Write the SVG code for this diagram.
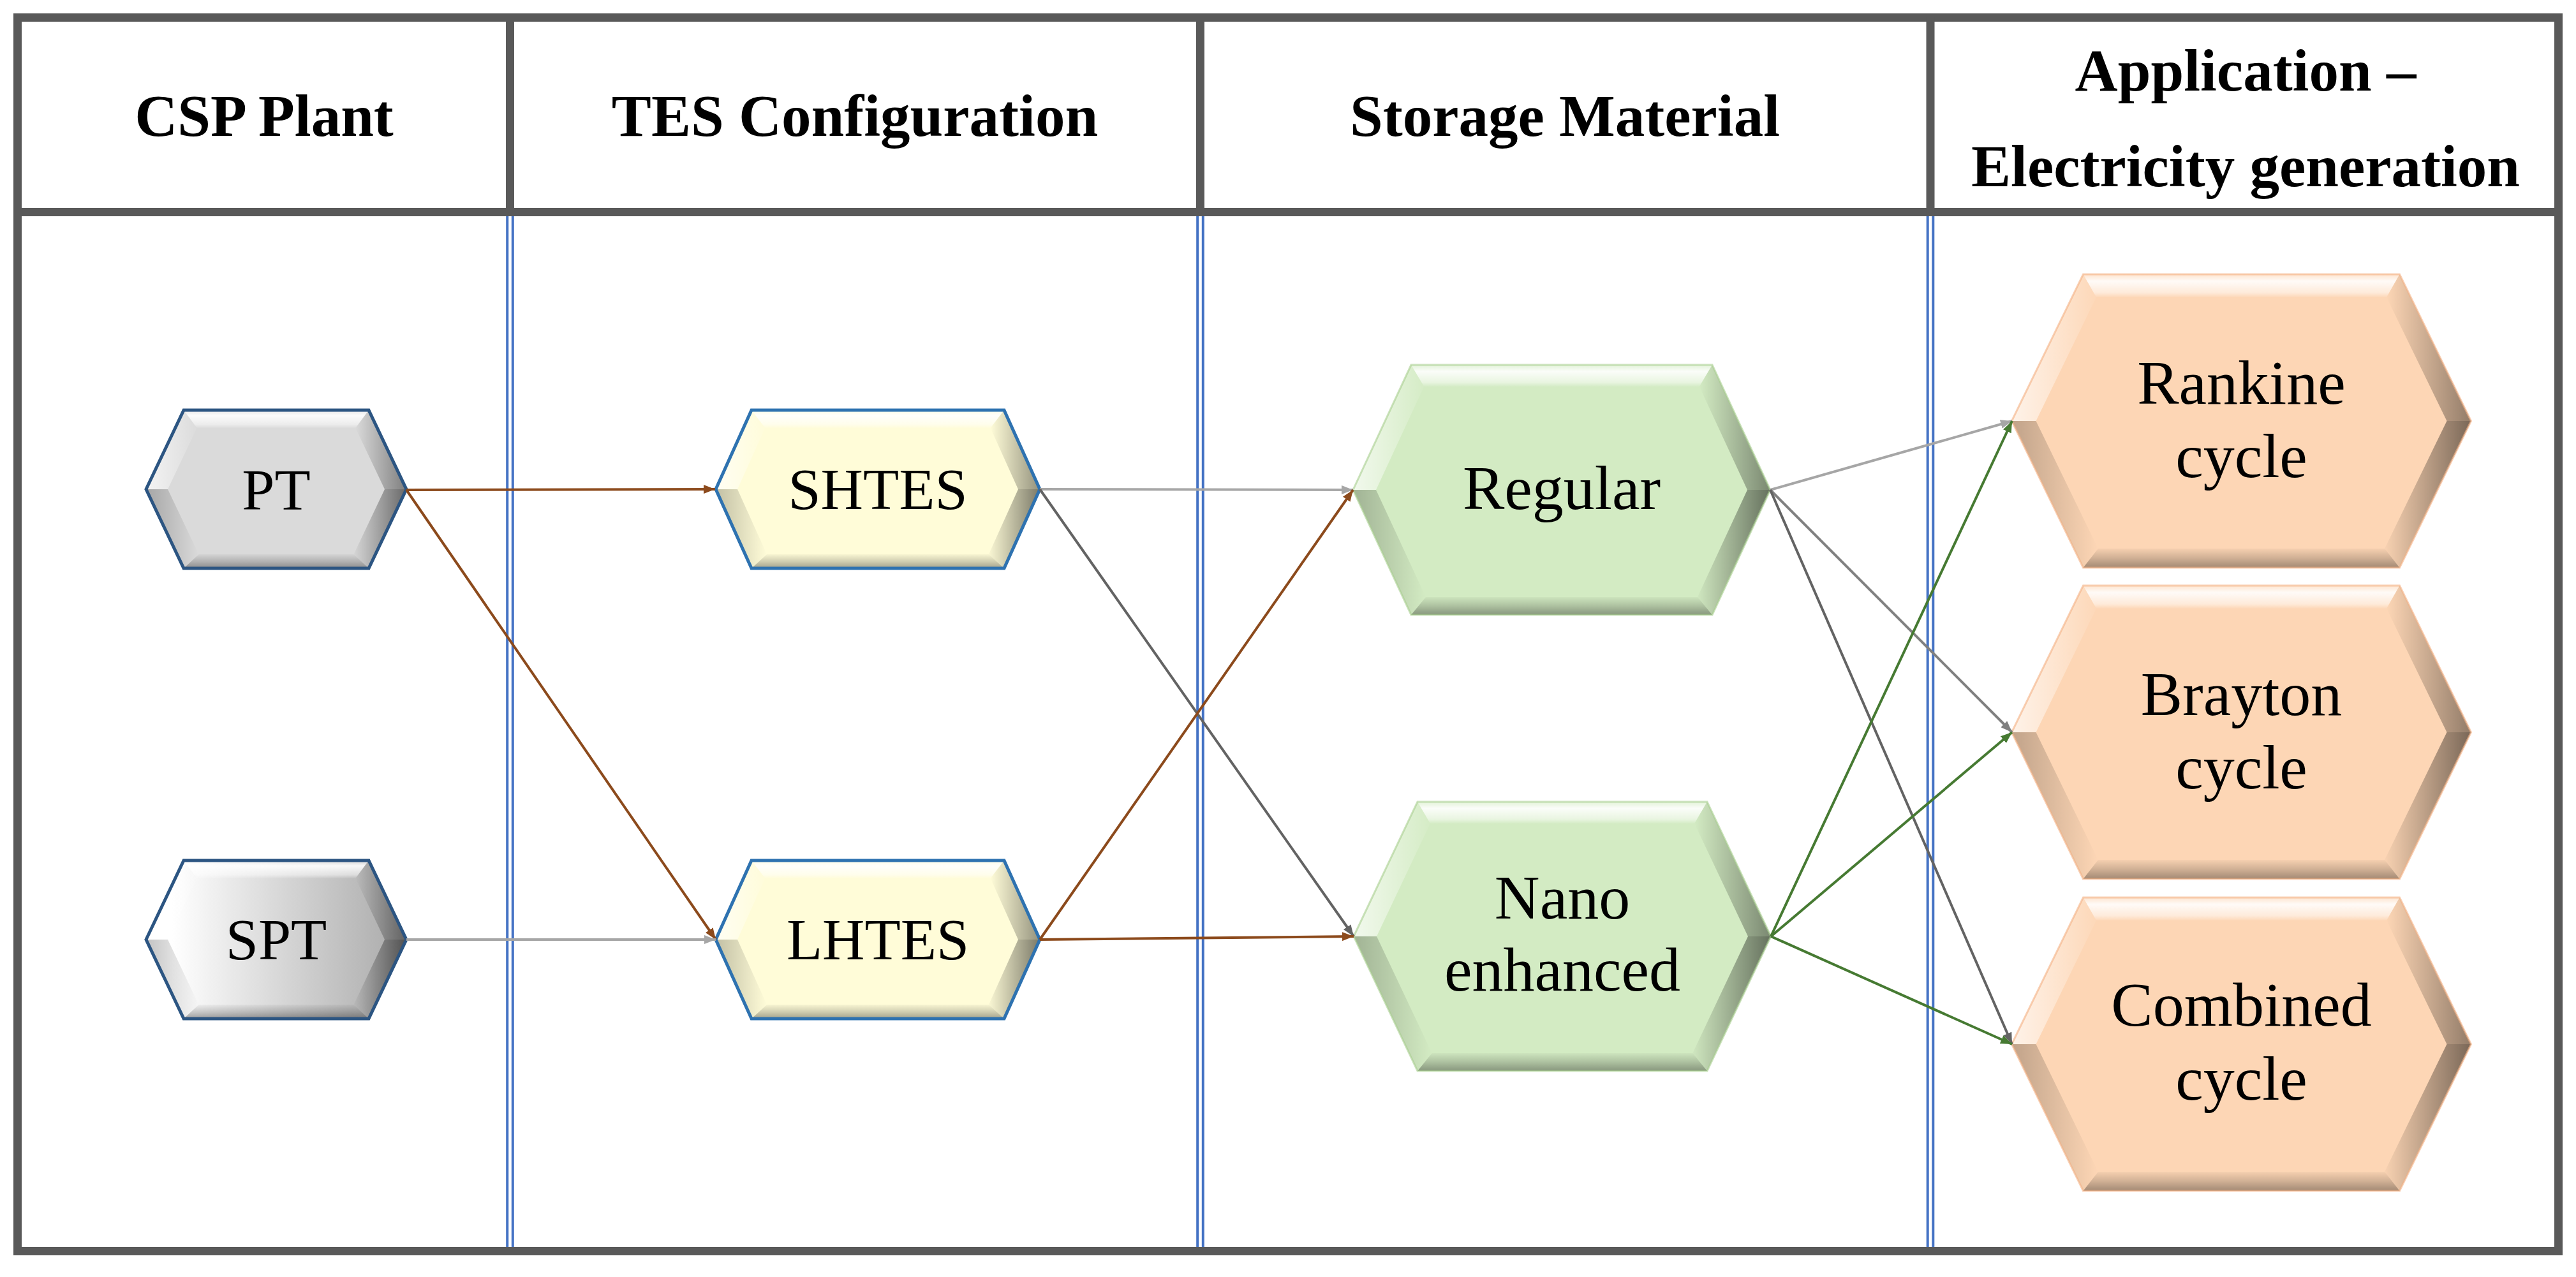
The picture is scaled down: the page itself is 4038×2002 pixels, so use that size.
<svg xmlns="http://www.w3.org/2000/svg" xmlns:xlink="http://www.w3.org/1999/xlink" width="4038" height="2002" viewBox="0 0 4038 2002">
<style>
.hdr{font-family:"Liberation Serif","Times New Roman",serif;font-weight:bold;font-size:93px;fill:#000;text-anchor:middle}
.ts{font-family:"Liberation Serif","Times New Roman",serif;font-size:92px;fill:#000;text-anchor:middle}
.tl{font-family:"Liberation Serif","Times New Roman",serif;font-size:98px;fill:#000;text-anchor:middle}
.frame{fill:none;stroke:#595959;stroke-width:13}
.dbl{stroke:#4472c4;stroke-width:4}
.con{fill:none;stroke-width:4}
.brown{stroke:#8c4a1c}
.lgray{stroke:#a6a6a6}
.mgray{stroke:#808080}
.dgray{stroke:#636363}
.green{stroke:#467a32}
.blueline{fill:none;stroke:#2c5582;stroke-width:5;stroke-linejoin:miter}
.yelline{fill:none;stroke:#2e72b0;stroke-width:5;stroke-linejoin:miter}
</style>
<defs>
<linearGradient id="gTop" x1="0" y1="0" x2="0" y2="1">
<stop offset="0" stop-color="#fff" stop-opacity="0.35"/>
<stop offset="0.3" stop-color="#fff" stop-opacity="0.9"/>
<stop offset="0.8" stop-color="#fff" stop-opacity="0.5"/>
<stop offset="1" stop-color="#fff" stop-opacity="0.05"/>
</linearGradient>
<linearGradient id="gBot" x1="0" y1="0" x2="0" y2="1">
<stop offset="0" stop-color="#000" stop-opacity="0.03"/>
<stop offset="0.5" stop-color="#000" stop-opacity="0.18"/>
<stop offset="1" stop-color="#000" stop-opacity="0.36"/>
</linearGradient>
<linearGradient id="gLU" x1="0" y1="0" x2="1" y2="0">
<stop offset="0" stop-color="#fff" stop-opacity="0.7"/>
<stop offset="1" stop-color="#fff" stop-opacity="0.05"/>
</linearGradient>
<linearGradient id="gLD" x1="0" y1="0" x2="1" y2="0">
<stop offset="0" stop-color="#000" stop-opacity="0.24"/>
<stop offset="1" stop-color="#000" stop-opacity="0"/>
</linearGradient>
<linearGradient id="gRU" x1="0" y1="0" x2="1" y2="0">
<stop offset="0" stop-color="#000" stop-opacity="0"/>
<stop offset="1" stop-color="#000" stop-opacity="0.42"/>
</linearGradient>
<linearGradient id="gRD" x1="0" y1="0" x2="1" y2="0">
<stop offset="0" stop-color="#000" stop-opacity="0.02"/>
<stop offset="1" stop-color="#000" stop-opacity="0.52"/>
</linearGradient>
<linearGradient id="gSPT" x1="0" y1="0" x2="1" y2="0">
<stop offset="0.1" stop-color="#ffffff"/>
<stop offset="1" stop-color="#a9a9a9"/>
</linearGradient>

<!-- facets type A (PT/SPT) -->
<g id="facA">
<polygon points="-145,-124 145,-124 124.3,-96 -124.3,-96" fill="url(#gTop)"/>
<polygon points="-121.5,102 121.5,102 145,124 -145,124" fill="url(#gBot)"/>
<polygon points="-204,0 -145,-124 -124.3,-96 -170,0" fill="url(#gLU)"/>
<polygon points="-204,0 -170,0 -121.5,102 -145,124" fill="url(#gLD)"/>
<polygon points="145,-124 204,0 170,0 124.3,-96" fill="url(#gRU)"/>
<polygon points="204,0 145,124 121.5,102 170,0" fill="url(#gRD)"/>
</g>
<!-- facets type B (SHTES/LHTES) -->
<g id="facB">
<polygon points="-198,-124 198,-124 176.6,-96 -176.6,-96" fill="url(#gTop)"/>
<polygon points="-173.9,102 173.9,102 198,124 -198,124" fill="url(#gBot)"/>
<polygon points="-254,0 -198,-124 -176.6,-96 -220,0" fill="url(#gLU)"/>
<polygon points="-254,0 -220,0 -173.9,102 -198,124" fill="url(#gLD)"/>
<polygon points="198,-124 254,0 220,0 176.6,-96" fill="url(#gRU)"/>
<polygon points="254,0 198,124 173.9,102 220,0" fill="url(#gRD)"/>
</g>
<!-- facets type C (Regular) -->
<g id="facC">
<polygon points="-236,-196 236,-196 215.8,-162 -215.8,-162" fill="url(#gTop)"/>
<polygon points="-213,168 213,168 236,196 -236,196" fill="url(#gBot)"/>
<polygon points="-327,0 -236,-196 -215.8,-162 -291,0" fill="url(#gLU)"/>
<polygon points="-327,0 -291,0 -213,168 -236,196" fill="url(#gLD)"/>
<polygon points="236,-196 327,0 291,0 215.8,-162" fill="url(#gRU)"/>
<polygon points="327,0 236,196 213,168 291,0" fill="url(#gRD)"/>
</g>
<!-- facets type D (Nano) -->
<g id="facD">
<polygon points="-227,-211 227,-211 207.1,-177 -207.1,-177" fill="url(#gTop)"/>
<polygon points="-204.3,183 204.3,183 227,211 -227,211" fill="url(#gBot)"/>
<polygon points="-327,0 -227,-211 -207.1,-177 -291,0" fill="url(#gLU)"/>
<polygon points="-327,0 -291,0 -204.3,183 -227,211" fill="url(#gLD)"/>
<polygon points="227,-211 327,0 291,0 207.1,-177" fill="url(#gRU)"/>
<polygon points="327,0 227,211 204.3,183 291,0" fill="url(#gRD)"/>
</g>
<!-- facets type E (cycles) -->
<g id="facE">
<polygon points="-248,-230 248,-230 227.5,-194 -227.5,-194" fill="url(#gTop)"/>
<polygon points="-224.6,200 224.6,200 248,230 -248,230" fill="url(#gBot)"/>
<polygon points="-360,0 -248,-230 -227.5,-194 -322,0" fill="url(#gLU)"/>
<polygon points="-360,0 -322,0 -224.6,200 -248,230" fill="url(#gLD)"/>
<polygon points="248,-230 360,0 322,0 227.5,-194" fill="url(#gRU)"/>
<polygon points="360,0 248,230 224.6,200 322,0" fill="url(#gRD)"/>
</g>

<marker id="mBrown" viewBox="0 0 18 14" refX="18" refY="7" markerWidth="18" markerHeight="14" markerUnits="userSpaceOnUse" orient="auto"><path d="M0,0 L18,7 L0,14 z" fill="#8c4a1c"/></marker>
<marker id="mLGray" viewBox="0 0 18 14" refX="18" refY="7" markerWidth="18" markerHeight="14" markerUnits="userSpaceOnUse" orient="auto"><path d="M0,0 L18,7 L0,14 z" fill="#a6a6a6"/></marker>
<marker id="mMGray" viewBox="0 0 18 14" refX="18" refY="7" markerWidth="18" markerHeight="14" markerUnits="userSpaceOnUse" orient="auto"><path d="M0,0 L18,7 L0,14 z" fill="#808080"/></marker>
<marker id="mDGray" viewBox="0 0 18 14" refX="18" refY="7" markerWidth="18" markerHeight="14" markerUnits="userSpaceOnUse" orient="auto"><path d="M0,0 L18,7 L0,14 z" fill="#636363"/></marker>
<marker id="mGreen" viewBox="0 0 18 14" refX="18" refY="7" markerWidth="18" markerHeight="14" markerUnits="userSpaceOnUse" orient="auto"><path d="M0,0 L18,7 L0,14 z" fill="#467a32"/></marker>
</defs>

<rect x="0" y="0" width="4038" height="2002" fill="#ffffff"/>

<g id="table">
<rect class="frame" x="27.5" y="27.5" width="3983" height="1934"/>
<line class="frame" x1="27" y1="332.5" x2="4011" y2="332.5"/>
<line class="frame" x1="799.5" y1="27" x2="799.5" y2="339"/>
<line class="frame" x1="1881.5" y1="27" x2="1881.5" y2="339"/>
<line class="frame" x1="3026" y1="27" x2="3026" y2="339"/>
<line class="dbl" x1="795.2" y1="339" x2="795.2" y2="1955"/>
<line class="dbl" x1="803.8" y1="339" x2="803.8" y2="1955"/>
<line class="dbl" x1="1877.2" y1="339" x2="1877.2" y2="1955"/>
<line class="dbl" x1="1885.8" y1="339" x2="1885.8" y2="1955"/>
<line class="dbl" x1="3021.7" y1="339" x2="3021.7" y2="1955"/>
<line class="dbl" x1="3030.3" y1="339" x2="3030.3" y2="1955"/>
</g>

<g id="headers">
<text class="hdr" x="414" y="213">CSP Plant</text>
<text class="hdr" x="1340" y="213">TES Configuration</text>
<text class="hdr" x="2453" y="213">Storage Material</text>
<text class="hdr" x="3520" y="142">Application –</text>
<text class="hdr" x="3520" y="292">Electricity generation</text>
</g>

<g id="node-PT" transform="translate(433,767)">
<polygon points="-204,0 -145,-124 145,-124 204,0 145,124 -145,124" fill="#dadada"/>
<use href="#facA"/>
<polygon class="blueline" points="-204,0 -145,-124 145,-124 204,0 145,124 -145,124"/>
<text class="ts" x="0" y="32">PT</text>
</g>

<g id="node-SPT" transform="translate(433,1473)">
<polygon points="-204,0 -145,-124 145,-124 204,0 145,124 -145,124" fill="url(#gSPT)"/>
<use href="#facA"/>
<polygon class="blueline" points="-204,0 -145,-124 145,-124 204,0 145,124 -145,124"/>
<text class="ts" x="0" y="31">SPT</text>
</g>

<g id="node-SHTES" transform="translate(1376,767)">
<polygon points="-254,0 -198,-124 198,-124 254,0 198,124 -198,124" fill="#fffcd8"/>
<use href="#facB"/>
<polygon class="yelline" points="-254,0 -198,-124 198,-124 254,0 198,124 -198,124"/>
<text class="ts" x="0" y="31">SHTES</text>
</g>

<g id="node-LHTES" transform="translate(1376,1473)">
<polygon points="-254,0 -198,-124 198,-124 254,0 198,124 -198,124" fill="#fffcd8"/>
<use href="#facB"/>
<polygon class="yelline" points="-254,0 -198,-124 198,-124 254,0 198,124 -198,124"/>
<text class="ts" x="0" y="31">LHTES</text>
</g>

<g id="node-Regular" transform="translate(2448,768)">
<polygon points="-327,0 -236,-196 236,-196 327,0 236,196 -236,196" fill="#d3ebc3"/>
<use href="#facC"/>
<polygon points="-327,0 -236,-196 236,-196 327,0 236,196 -236,196" fill="none" stroke="#a8cf90" stroke-width="3" stroke-opacity="0.6"/>
<text class="tl" x="0" y="30">Regular</text>
</g>

<g id="node-Nano" transform="translate(2449,1468)">
<polygon points="-327,0 -227,-211 227,-211 327,0 227,211 -227,211" fill="#d3ebc3"/>
<use href="#facD"/>
<polygon points="-327,0 -227,-211 227,-211 327,0 227,211 -227,211" fill="none" stroke="#a8cf90" stroke-width="3" stroke-opacity="0.6"/>
<text class="tl" x="0" y="-28">Nano</text>
<text class="tl" x="0" y="85">enhanced</text>
</g>

<g id="node-Rankine" transform="translate(3513.5,660)">
<polygon points="-360,0 -248,-230 248,-230 360,0 248,230 -248,230" fill="#fdd6b5"/>
<use href="#facE"/>
<polygon points="-360,0 -248,-230 248,-230 360,0 248,230 -248,230" fill="none" stroke="#f4b183" stroke-width="3" stroke-opacity="0.6"/>
<text class="tl" x="0" y="-27">Rankine</text>
<text class="tl" x="0" y="88">cycle</text>
</g>

<g id="node-Brayton" transform="translate(3513.5,1148)">
<polygon points="-360,0 -248,-230 248,-230 360,0 248,230 -248,230" fill="#fdd6b5"/>
<use href="#facE"/>
<polygon points="-360,0 -248,-230 248,-230 360,0 248,230 -248,230" fill="none" stroke="#f4b183" stroke-width="3" stroke-opacity="0.6"/>
<text class="tl" x="0" y="-27">Brayton</text>
<text class="tl" x="0" y="88">cycle</text>
</g>

<g id="node-Combined" transform="translate(3513.5,1637)">
<polygon points="-360,0 -248,-230 248,-230 360,0 248,230 -248,230" fill="#fdd6b5"/>
<use href="#facE"/>
<polygon points="-360,0 -248,-230 248,-230 360,0 248,230 -248,230" fill="none" stroke="#f4b183" stroke-width="3" stroke-opacity="0.6"/>
<text class="tl" x="0" y="-29">Combined</text>
<text class="tl" x="0" y="87">cycle</text>
</g>

<g id="connectors">
<line class="con brown" x1="637" y1="768" x2="1121" y2="767" marker-end="url(#mBrown)"/>
<line class="con brown" x1="637" y1="768" x2="1122" y2="1473" marker-end="url(#mBrown)"/>
<line class="con lgray" x1="637" y1="1473" x2="1122" y2="1473" marker-end="url(#mLGray)"/>
<line class="con lgray" x1="1630" y1="767" x2="2121" y2="768" marker-end="url(#mLGray)"/>
<line class="con dgray" x1="1630" y1="767" x2="2122" y2="1468" marker-end="url(#mDGray)"/>
<line class="con brown" x1="1630" y1="1473" x2="2121" y2="768" marker-end="url(#mBrown)"/>
<line class="con brown" x1="1630" y1="1473" x2="2122" y2="1468" marker-end="url(#mBrown)"/>
<line class="con lgray" x1="2775" y1="768" x2="3154" y2="660" marker-end="url(#mLGray)"/>
<line class="con mgray" x1="2775" y1="768" x2="3154" y2="1148" marker-end="url(#mMGray)"/>
<line class="con dgray" x1="2775" y1="768" x2="3154" y2="1637" marker-end="url(#mDGray)"/>
<line class="con green" x1="2776" y1="1468" x2="3154" y2="660" marker-end="url(#mGreen)"/>
<line class="con green" x1="2776" y1="1468" x2="3154" y2="1148" marker-end="url(#mGreen)"/>
<line class="con green" x1="2776" y1="1468" x2="3154" y2="1637" marker-end="url(#mGreen)"/>
</g>
</svg>
